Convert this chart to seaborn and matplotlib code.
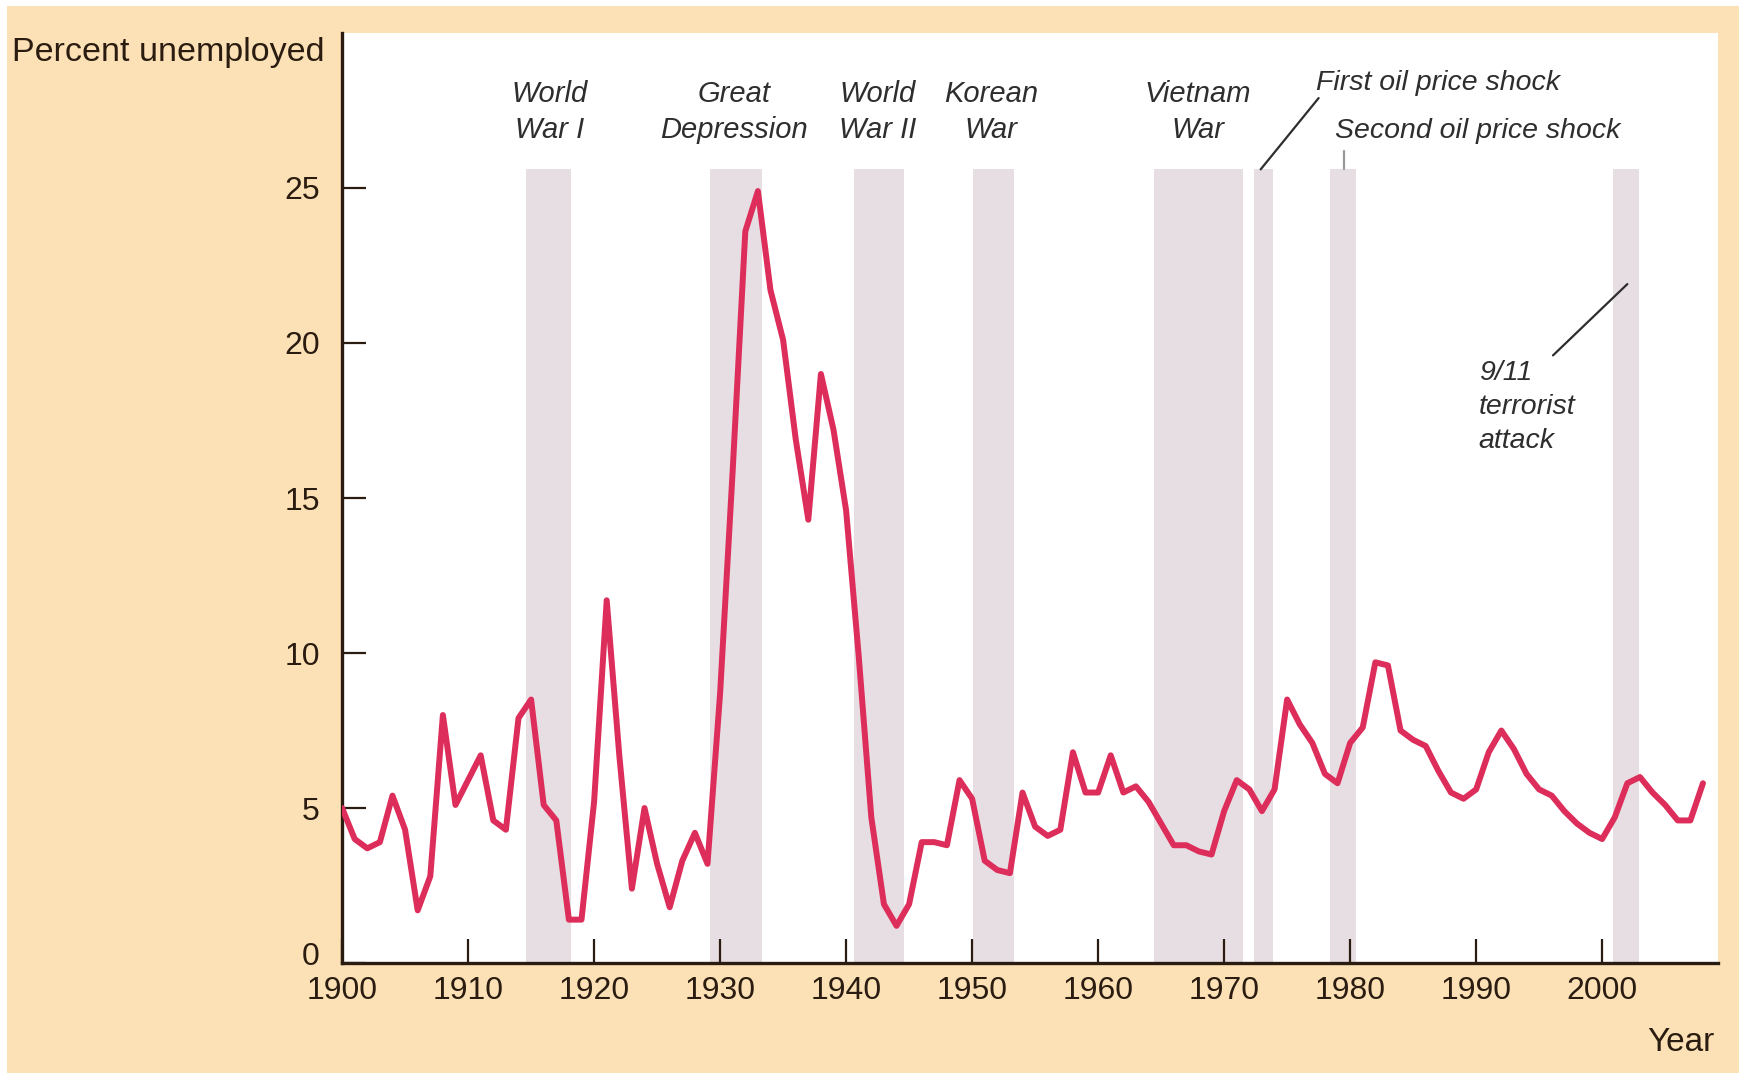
import matplotlib
matplotlib.use("Agg")
import matplotlib.pyplot as plt
import seaborn as sns
import pandas as pd
from matplotlib.patches import Rectangle

# annual US unemployment rate
years = list(range(1900, 2009))
unemployment = [
    5.0, 4.0, 3.7, 3.9, 5.4, 4.3, 1.7, 2.8, 8.0, 5.1,      # 1900s
    5.9, 6.7, 4.6, 4.3, 7.9, 8.5, 5.1, 4.6, 1.4, 1.4,      # 1910s
    5.2, 11.7, 6.7, 2.4, 5.0, 3.2, 1.8, 3.3, 4.2, 3.2,     # 1920s
    8.7, 15.9, 23.6, 24.9, 21.7, 20.1, 16.9, 14.3, 19.0, 17.2,  # 1930s
    14.6, 9.9, 4.7, 1.9, 1.2, 1.9, 3.9, 3.9, 3.8, 5.9,     # 1940s
    5.3, 3.3, 3.0, 2.9, 5.5, 4.4, 4.1, 4.3, 6.8, 5.5,      # 1950s
    5.5, 6.7, 5.5, 5.7, 5.2, 4.5, 3.8, 3.8, 3.6, 3.5,      # 1960s
    4.9, 5.9, 5.6, 4.9, 5.6, 8.5, 7.7, 7.1, 6.1, 5.8,      # 1970s
    7.1, 7.6, 9.7, 9.6, 7.5, 7.2, 7.0, 6.2, 5.5, 5.3,      # 1980s
    5.6, 6.8, 7.5, 6.9, 6.1, 5.6, 5.4, 4.9, 4.5, 4.2,      # 1990s
    4.0, 4.7, 5.8, 6.0, 5.5, 5.1, 4.6, 4.6, 5.8,           # 2000s
]

# shaded episodes
episode_labels = ["World\nWar I", "Great\nDepression", "World\nWar II",
                  "Korean\nWar", "Vietnam\nWar"]
shade_start = [1914.6, 1929.2, 1940.6, 1950.1, 1964.4, 1972.4, 1978.4, 2000.9]
shade_end = [1918.2, 1933.3, 1944.6, 1953.3, 1971.5, 1973.9, 1980.5, 2002.9]
shade_top = 25.6

x_ticks = list(range(1900, 2001, 10))
y_ticks = [0, 5, 10, 15, 20, 25]

PEACH = "#FCE1B6"
LINE = "#DD2D5A"
SHADE = "#E7DEE4"
DARK = "#2A1C10"
TEXT = "#2E2E2E"

df = pd.DataFrame({"Year": years, "Unemployment": unemployment})

sns.set_style("ticks")
plt.rcParams["font.family"] = ["Liberation Sans", "DejaVu Sans"]

fig = plt.figure(figsize=(17.4, 10.77), dpi=100, facecolor="white")
fig.patches.append(Rectangle((0.004, 0.004), 0.996, 0.99, transform=fig.transFigure,
                             facecolor=PEACH, edgecolor="none", zorder=-10))
ax = fig.add_axes([0.1966, 0.1058, 0.7908, 0.8636])
ax.set_facecolor("white")

for s, e in zip(shade_start, shade_end):
    ax.fill_between([s, e], 0, shade_top, color=SHADE, linewidth=0, zorder=0)

sns.lineplot(data=df, x="Year", y="Unemployment", ax=ax, color=LINE, linewidth=4.3,
             solid_joinstyle="round", solid_capstyle="round", zorder=3)

ax.set_xlim(1900, 2009.2)
ax.set_ylim(0, 30)
ax.set_xticks(x_ticks)
ax.set_yticks(y_ticks)
# the "0" is drawn separately, a touch higher, so it clears "1900"
ax.set_yticklabels([""] + [str(v) for v in y_ticks[1:]])
ax.set_xlabel("")
ax.set_ylabel("")
sns.despine(ax=ax)
for side in ["left", "bottom"]:
    ax.spines[side].set_color(DARK)
    ax.spines[side].set_linewidth(2.4)
ax.tick_params(axis="both", direction="in", color=DARK, width=1.6,
               labelsize=23, labelcolor=DARK)
ax.tick_params(axis="y", length=17, pad=16)
ax.tick_params(axis="x", length=17, pad=9)
ax.annotate(str(y_ticks[0]), xy=(0, y_ticks[0]), xycoords=("axes fraction", "data"),
            xytext=(-16, 4), textcoords="offset points", ha="right", va="center",
            fontsize=23, color=DARK, annotation_clip=False)

# episode labels
label_x = [1916.5, 1931.1, 1942.5, 1951.5, 1967.9]
for lx, txt in zip(label_x, episode_labels):
    ax.text(lx, 27.45, txt, ha="center", va="center", fontsize=21, style="italic",
            color=TEXT, linespacing=1.35)

ax.text(1977.3, 28.4, "First oil price shock", ha="left", va="center", fontsize=20.5,
        style="italic", color=TEXT)
ax.plot([1972.9, 1977.5], [25.6, 27.9], color=TEXT, linewidth=1.6)
ax.text(1978.8, 26.85, "Second oil price shock", ha="left", va="center", fontsize=20.5,
        style="italic", color=TEXT)
ax.plot([1979.5, 1979.5], [25.6, 26.2], color="#999999", linewidth=1.6)
ax.text(1990.2, 17.95, "9/11\nterrorist\nattack", ha="left", va="center", fontsize=20.5,
        style="italic", color=TEXT, linespacing=1.4)
ax.plot([1996.1, 2002.0], [19.6, 21.9], color=TEXT, linewidth=1.6)

fig.text(292 * 1.1097 / 1740, 1 - 47 * 1.1097 / 1077, "Percent unemployed",
         ha="right", va="center", fontsize=24.5, color=DARK)
fig.text(1545 * 1.1097 / 1740, 1 - 939 * 1.1097 / 1077, "Year",
         ha="right", va="center", fontsize=24, color=DARK)

fig.savefig("out.png", dpi=100, facecolor=fig.get_facecolor())
